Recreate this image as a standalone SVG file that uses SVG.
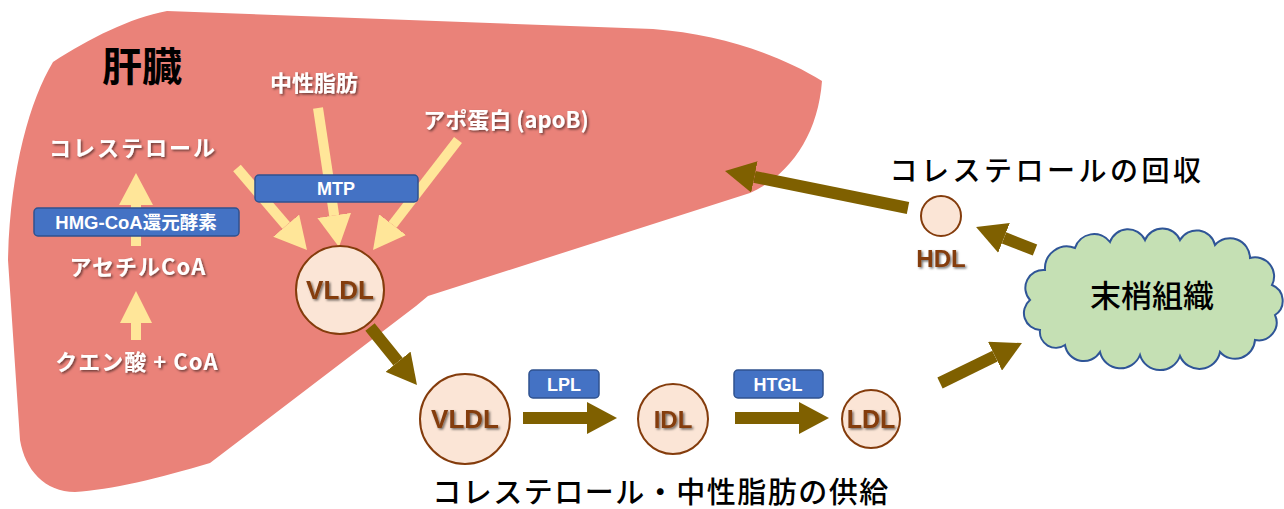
<svg xmlns="http://www.w3.org/2000/svg" width="1284" height="509" viewBox="0 0 1284 509">
<defs>
<filter id="sh" x="-20%" y="-20%" width="140%" height="150%"><feDropShadow dx="1.5" dy="1.5" stdDeviation="1" flood-color="#000" flood-opacity="0.55"/></filter>
<marker id="ya" markerUnits="userSpaceOnUse" markerWidth="34" markerHeight="34" refX="0" refY="17" orient="auto"><path d="M0,0 L32,17 L0,34 Z" fill="#FFE699"/></marker>
<marker id="ba" markerUnits="userSpaceOnUse" markerWidth="32" markerHeight="32" refX="0" refY="16" orient="auto"><path d="M0,0 L30,16 L0,32 Z" fill="#7F6000"/></marker>
</defs>
<style>
.wl{font-family:"Noto Sans CJK JP","Liberation Sans",sans-serif;font-weight:bold;fill:#fff;font-size:22px;text-anchor:middle;filter:url(#sh)}
.bx{fill:#4472C4;stroke:#2F528F;stroke-width:1.5}
.bt{font-family:"Liberation Sans","Noto Sans CJK JP",sans-serif;font-weight:bold;fill:#fff;font-size:18px;text-anchor:middle}
.ci{fill:#FBE5D6;stroke:#843C0C;stroke-width:2}
.ct{font-family:"Liberation Sans",sans-serif;font-weight:bold;fill:#843C0C;text-anchor:middle;filter:url(#sh)}
.ya{stroke:#FFE699;stroke-width:10;fill:none;marker-end:url(#ya)}
.ba{stroke:#7F6000;stroke-width:12;fill:none;marker-end:url(#ba)}
.bl{font-family:"Noto Sans CJK JP",sans-serif;fill:#000;text-anchor:middle;font-weight:500}
</style>
<g id="liver">
<path d="M53,62 C90,38 130,18 167,11 L653,29 C720,34 780,55 822,81 C818,135 790,175 750,193 L428,296 L416,306 L210,463 C160,478 110,490 75,492 C45,492 25,470 20,440 L8,260 C10,170 30,100 53,62 Z" fill="#EA8279"/>
<text x="142" y="81" class="bl" style="font-size:40px;font-weight:bold">肝臓</text>
</g>
<g id="connectors">
<polygon points="131,246 131,205 119,205 136,173 153,205 141,205 141,246" fill="#FFE699"/>
<polygon points="131,340 131,323 120,323 136,291 152,323 141,323 141,340" fill="#FFE699"/>
<line class="ya" x1="237" y1="168" x2="286.2" y2="225.6"/>
<line class="ya" x1="318" y1="108" x2="334.2" y2="215.4"/>
<line class="ya" x1="458" y1="140" x2="392.6" y2="224.7"/>
<line class="ba" x1="370" y1="327" x2="398.1" y2="361.7"/>
<line class="ba" x1="523" y1="418" x2="587" y2="418"/>
<line class="ba" x1="735" y1="418" x2="799" y2="418"/>
<line class="ba" x1="940" y1="383" x2="995" y2="356.2"/>
<line class="ba" x1="1035" y1="250" x2="1004" y2="237.9"/>
<line class="ba" x1="908" y1="208" x2="754.4" y2="176.9"/>
</g>
<g id="labels">
<text class="wl" x="314" y="91">中性脂肪</text>
<text class="wl" x="133" y="156" style="letter-spacing:2px">コレステロール</text>
<text class="wl" x="506" y="128">アポ蛋白 (apoB)</text>
<text class="wl" x="138" y="275" style="letter-spacing:1px">アセチルCoA</text>
<text class="wl" x="137" y="370" style="letter-spacing:1px">クエン酸 + CoA</text>
</g>
<g id="hmg"><rect class="bx" x="34" y="208" width="205" height="28" rx="4"/><text class="bt" x="136" y="228.5" style="font-size:18.5px">HMG-CoA還元酵素</text></g>
<g id="mtp"><rect class="bx" x="255" y="175" width="163" height="27" rx="4"/><text class="bt" x="336" y="195">MTP</text></g>
<g id="lpl"><rect class="bx" x="529" y="370" width="70" height="28" rx="4"/><text class="bt" x="564" y="390.5">LPL</text></g>
<g id="htgl"><rect class="bx" x="734" y="370" width="89" height="28" rx="4"/><text class="bt" x="778" y="390.5">HTGL</text></g>
<g id="vldl1"><circle class="ci" cx="340" cy="290" r="44"/><text class="ct" x="340" y="299" font-size="26">VLDL</text></g>
<g id="vldl2"><circle class="ci" cx="465" cy="419" r="45"/><text class="ct" x="465" y="428" font-size="26">VLDL</text></g>
<g id="idl"><circle class="ci" cx="673" cy="419" r="35"/><text class="ct" x="673" y="428" font-size="24">IDL</text></g>
<g id="ldl"><circle class="ci" cx="871" cy="419" r="29"/><text class="ct" x="871" y="428" font-size="25">LDL</text></g>
<g id="hdl"><circle class="ci" cx="941" cy="216" r="20"/><text class="ct" x="941" y="267" font-size="24">HDL</text></g>
<g id="tissue">
<path d="M1030,300 A18,18 0 0 1 1045,270 A22,22 0 0 1 1075,248 A20,20 0 0 1 1110,242 A19,19 0 0 1 1145,240 A19,19 0 0 1 1180,240 A19,19 0 0 1 1215,245 A20,20 0 0 1 1250,258 A19,19 0 0 1 1272,285 A17,17 0 0 1 1275,315 A18,18 0 0 1 1255,340 A20,20 0 0 1 1220,352 A21,21 0 0 1 1180,356 A21,21 0 0 1 1140,355 A21,21 0 0 1 1100,352 A19,19 0 0 1 1065,345 A16,16 0 0 1 1040,330 A17,17 0 0 1 1030,300 Z" fill="#C5E0B4" stroke="#2F5597" stroke-width="2"/>
<text class="bl" x="1152" y="307" style="font-size:31px">末梢組織</text>
</g>
<text class="bl" x="1047" y="181" style="font-size:28px;letter-spacing:3.5px">コレステロールの回収</text>
<text class="bl" x="661" y="503" style="font-size:29px;letter-spacing:1.5px">コレステロール・中性脂肪の供給</text>
</svg>
